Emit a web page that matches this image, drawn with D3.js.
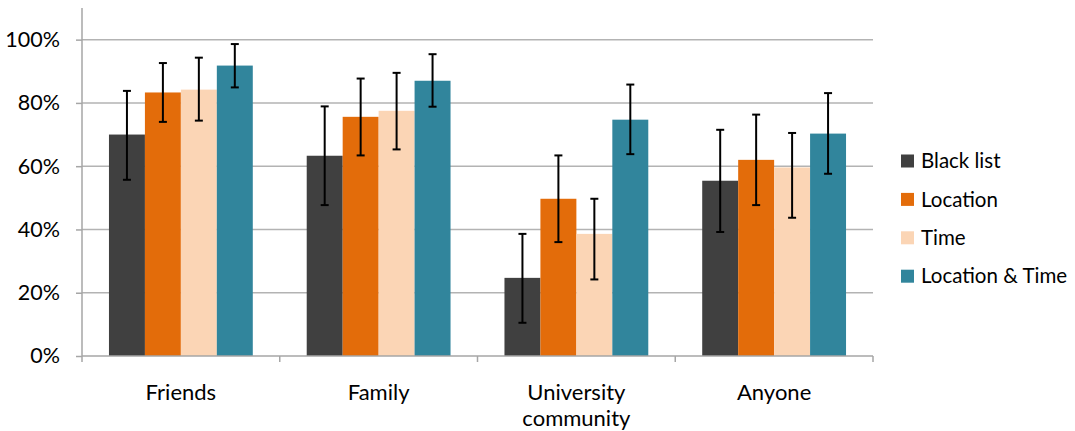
<!DOCTYPE html>
<html>
<head>
<meta charset="utf-8">
<script src="https://cdn.jsdelivr.net/npm/d3@7"></script>
<style>
  body { margin: 0; background: #fff; }
  text { font-family: Lato, "Open Sans", sans-serif; fill: #000; }
</style>
</head>
<body>
<script>
// Data
var categories = ["Friends", "Family", "University community", "Anyone"];
var seriesNames = ["Black list", "Location", "Time", "Location & Time"];
var seriesColors = ["#404040", "#e36c0a", "#fbd5b5", "#31859c"];

var blackList     = [0.700, 0.633, 0.247, 0.554];
var blackListLow  = [0.557, 0.477, 0.105, 0.392];
var blackListHigh = [0.838, 0.789, 0.386, 0.715];
var location_     = [0.833, 0.756, 0.497, 0.620];
var locationLow   = [0.740, 0.634, 0.360, 0.477];
var locationHigh  = [0.926, 0.877, 0.634, 0.763];
var time          = [0.842, 0.775, 0.386, 0.596];
var timeLow       = [0.744, 0.653, 0.242, 0.437];
var timeHigh      = [0.943, 0.895, 0.497, 0.705];
var locTime       = [0.918, 0.870, 0.747, 0.703];
var locTimeLow    = [0.849, 0.788, 0.638, 0.576];
var locTimeHigh   = [0.986, 0.954, 0.858, 0.831];

var yTicks = [0, 0.2, 0.4, 0.6, 0.8, 1.0];

var values = [blackList, location_, time, locTime];
var lows = [blackListLow, locationLow, timeLow, locTimeLow];
var highs = [blackListHigh, locationHigh, timeHigh, locTimeHigh];

var margin = {top: 8, right: 202, bottom: 75, left: 82},
    width = 1075 - margin.left - margin.right,
    height = 431 - margin.top - margin.bottom;

var svg = d3.select("body").append("svg")
    .attr("width", 1075)
    .attr("height", 431);

var g = svg.append("g")
    .attr("transform", "translate(" + margin.left + "," + margin.top + ")");

var x0 = d3.scaleBand().domain(categories).range([0, width]).padding(0);
var x1 = d3.scaleBand().domain(d3.range(seriesNames.length))
    .range([0, x0.bandwidth()]).paddingInner(0).paddingOuter(0.75);
var y = d3.scaleLinear().domain([0, 1.1]).range([height, 0]);

// gridlines
g.append("g")
    .selectAll("line").data(yTicks.slice(1)).enter().append("line")
    .attr("x1", 0).attr("x2", width)
    .attr("y1", function(d) { return y(d); })
    .attr("y2", function(d) { return y(d); })
    .attr("stroke", "#b3b3b3").attr("stroke-width", 1.5);

// y axis
var yAxis = g.append("g")
    .call(d3.axisLeft(y).tickValues(yTicks).tickFormat(d3.format(".0%")).tickSize(6).tickPadding(16));
yAxis.select(".domain").remove();
yAxis.selectAll(".tick line").attr("stroke", "#a6a6a6").attr("stroke-width", 1.5);
yAxis.selectAll("text").style("font-size", "21.5px").attr("fill", "#000");
g.append("line")
    .attr("x1", 0).attr("x2", 0).attr("y1", 0).attr("y2", height)
    .attr("stroke", "#a6a6a6").attr("stroke-width", 1.5);

// bars
var group = g.selectAll(".cat").data(categories).enter().append("g")
    .attr("class", "cat")
    .attr("transform", function(d) { return "translate(" + x0(d) + ",0)"; });

group.selectAll("rect")
    .data(function(d, i) { return values.map(function(s, k) { return {k: k, v: s[i]}; }); })
    .enter().append("rect")
    .attr("x", function(d) { return x1(d.k); })
    .attr("width", x1.bandwidth())
    .attr("y", function(d) { return y(d.v); })
    .attr("height", function(d) { return height - y(d.v); })
    .attr("fill", function(d) { return seriesColors[d.k]; });

// error bars
var eb = group.selectAll(".err")
    .data(function(d, i) { return values.map(function(s, k) { return {k: k, lo: lows[k][i], hi: highs[k][i]}; }); })
    .enter().append("g").attr("class", "err")
    .attr("stroke", "#000").attr("stroke-width", 2);
var cx = function(d) { return x1(d.k) + x1.bandwidth() / 2; };
eb.append("line")
    .attr("x1", cx).attr("x2", cx)
    .attr("y1", function(d) { return y(d.hi); })
    .attr("y2", function(d) { return y(d.lo); });
eb.append("line")
    .attr("x1", function(d) { return cx(d) - 4; }).attr("x2", function(d) { return cx(d) + 4; })
    .attr("y1", function(d) { return y(d.hi); })
    .attr("y2", function(d) { return y(d.hi); });
eb.append("line")
    .attr("x1", function(d) { return cx(d) - 4; }).attr("x2", function(d) { return cx(d) + 4; })
    .attr("y1", function(d) { return y(d.lo); })
    .attr("y2", function(d) { return y(d.lo); });

// x axis
var xg = g.append("g").attr("transform", "translate(0," + height + ")");
xg.append("line").attr("x1", 0).attr("x2", width)
    .attr("stroke", "#a6a6a6").attr("stroke-width", 1.5);
xg.selectAll(".tk").data(categories.concat([null])).enter().append("line")
    .attr("x1", function(d, i) { return i * x0.step(); })
    .attr("x2", function(d, i) { return i * x0.step(); })
    .attr("y1", 0).attr("y2", 6)
    .attr("stroke", "#a6a6a6").attr("stroke-width", 1.5);

var labels = xg.selectAll(".lbl").data(categories).enter().append("text")
    .attr("text-anchor", "middle")
    .attr("x", function(d) { return x0(d) + x0.bandwidth() / 2; })
    .style("font-size", "22px");
labels.each(function(d) {
  var words = d === "University community" ? ["University", "community"] : [d];
  var t = d3.select(this);
  words.forEach(function(w, i) {
    t.append("tspan").attr("x", t.attr("x")).attr("y", 44 + i * 26).text(w);
  });
});

// legend
var legend = svg.append("g").attr("transform", "translate(901,161)");
var item = legend.selectAll("g").data(seriesNames).enter().append("g")
    .attr("transform", function(d, i) { return "translate(0," + (i * 38.4) + ")"; });
item.append("rect")
    .attr("x", 0).attr("y", -6.5).attr("width", 13).attr("height", 13)
    .attr("fill", function(d, i) { return seriesColors[i]; });
item.append("text")
    .attr("x", 20).attr("dy", "0.35em")
    .style("font-size", "20.5px")
    .text(function(d) { return d; });
</script>
</body>
</html>
